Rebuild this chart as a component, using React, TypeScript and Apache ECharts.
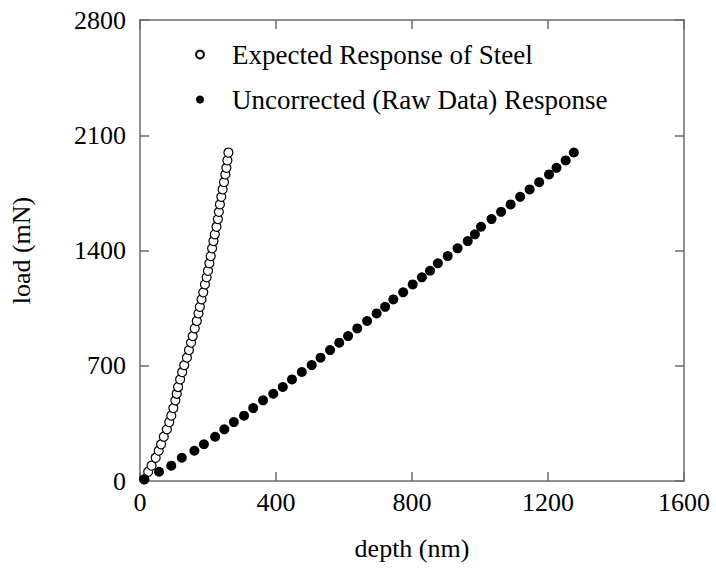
import React, { useEffect, useRef } from "react";
import * as echarts from "echarts";

// Applied load for each indentation step (mN)
const loads = [
  10, 56, 93, 141, 184, 223, 269, 314, 358, 397, 443, 490, 530, 571, 617, 662,
  704, 749, 795, 840, 880, 927, 972, 1018, 1058, 1103, 1146, 1194, 1237, 1277,
  1322, 1366, 1413, 1457, 1498, 1544, 1591, 1635, 1680, 1726, 1771, 1815, 1862,
  1902, 1947, 1995,
];

// Depth expected for steel at each load (nm)
const steelDepth = [
  12, 24, 34, 46, 55, 62, 70, 79, 86, 92, 98, 104, 108, 112, 118, 124, 130, 138,
  144, 150, 155, 161, 167, 172, 176, 181, 186, 191, 196, 200, 204, 208, 212, 216,
  220, 225, 229, 232, 235, 239, 243, 247, 251, 254, 257, 260,
];

// Measured (uncorrected) depth at each load (nm)
const rawDepth = [
  13, 56, 92, 123, 160, 188, 221, 248, 276, 306, 333, 362, 392, 420, 447, 476,
  505, 531, 559, 586, 612, 639, 668, 696, 721, 745, 774, 802, 829, 853, 876, 905,
  934, 964, 985, 1003, 1034, 1062, 1090, 1118, 1146, 1174, 1203, 1225, 1252, 1276,
];

const xTicks = { min: 0, max: 1600, interval: 400 };
const yTicks = { min: 0, max: 2800, interval: 700 };

const FONT = "'Liberation Serif', 'Times New Roman', serif";
const AXIS_COLOR = "#6b6b6b";

function frameAxis(position: string, labelled: boolean, labelMargin: number) {
  return {
    type: "value",
    gridIndex: 0,
    position,
    offset: 0,
    axisLine: { show: true, onZero: false, lineStyle: { color: AXIS_COLOR, width: 1.5 } },
    axisTick: { show: true, inside: true, length: 9, lineStyle: { color: AXIS_COLOR, width: 1.5 } },
    splitLine: { show: false },
    axisLabel: {
      show: labelled,
      fontFamily: FONT,
      fontSize: 26,
      color: "#000",
      margin: labelMargin,
      formatter: (v: number) => String(v),
    },
  };
}

export default function App() {
  const ref = useRef<HTMLDivElement>(null);

  useEffect(() => {
    if (!ref.current) return;
    const chart = echarts.init(ref.current, undefined, { renderer: "svg" });

    const steelData = loads.map((p, i) => [steelDepth[i], p]);
    const rawData = loads.map((p, i) => [rawDepth[i], p]);

    chart.setOption({
      animation: false,
      backgroundColor: "#ffffff",
      grid: { left: 140, right: 32, top: 20, bottom: 88 },
      legend: {
        orient: "vertical",
        left: 190,
        top: 36,
        itemWidth: 54,
        itemHeight: 8,
        itemGap: 18,
        textStyle: { fontFamily: FONT, fontSize: 27, color: "#000" },
        data: ["Expected Response of Steel", "Uncorrected (Raw Data) Response"],
      },
      xAxis: [
        {
          ...frameAxis("bottom", true, 8),
          ...xTicks,
          name: "depth (nm)",
          nameLocation: "middle",
          nameGap: 54,
          nameTextStyle: { fontFamily: FONT, fontSize: 26, color: "#000" },
        },
        { ...frameAxis("top", false, 8), ...xTicks },
      ],
      yAxis: [
        {
          ...frameAxis("left", true, 14),
          ...yTicks,
          name: "load (mN)",
          nameLocation: "middle",
          nameGap: 106,
          nameTextStyle: { fontFamily: FONT, fontSize: 26, color: "#000" },
        },
        { ...frameAxis("right", false, 14), ...yTicks },
      ],
      series: [
        {
          name: "Expected Response of Steel",
          type: "scatter",
          data: steelData,
          symbol: "circle",
          symbolSize: 9,
          itemStyle: { color: "#ffffff", borderColor: "#000000", borderWidth: 1.2, opacity: 1 },
        },
        {
          name: "Uncorrected (Raw Data) Response",
          type: "scatter",
          data: rawData,
          symbol: "circle",
          symbolSize: 10,
          itemStyle: { color: "#000000", opacity: 1 },
        },
      ],
    });

    return () => chart.dispose();
  }, []);

  return (
    <div
      ref={ref}
      style={{ position: "absolute", left: 0, top: 0, width: 716, height: 569 }}
    />
  );
}
